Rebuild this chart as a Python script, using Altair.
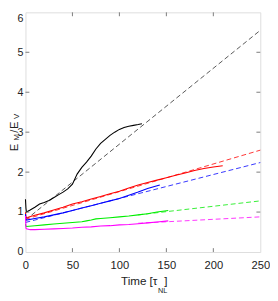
import altair as alt
import pandas as pd

# ---- data ----
t_black = [0, 0.5, 1, 5, 10, 15, 20, 25, 30, 35, 40, 45, 50, 55, 60, 65, 70, 75, 80, 85, 90, 95, 100, 105, 110, 115, 120, 124]
v_black = [1.32, 1.1, 1.0, 1.05, 1.12, 1.2, 1.24, 1.29, 1.36, 1.43, 1.50, 1.58, 1.70, 1.95, 2.12, 2.25, 2.40, 2.58, 2.72, 2.82, 2.92, 3.0, 3.07, 3.12, 3.15, 3.17, 3.19, 3.21]

t_red = [0, 0.5, 1, 10, 20, 30, 40, 50, 60, 70, 80, 90, 100, 110, 120, 130, 140, 150, 160, 170, 180, 190, 200, 210]
v_red = [1.0, 0.88, 0.86, 0.92, 0.98, 1.05, 1.12, 1.2, 1.26, 1.33, 1.39, 1.46, 1.52, 1.60, 1.68, 1.74, 1.80, 1.86, 1.92, 1.98, 2.04, 2.09, 2.13, 2.16]

t_blue = [0, 0.5, 1, 10, 20, 30, 40, 50, 60, 70, 80, 90, 100, 110, 120, 130, 143]
v_blue = [0.95, 0.82, 0.80, 0.84, 0.88, 0.93, 0.98, 1.04, 1.1, 1.16, 1.22, 1.28, 1.34, 1.42, 1.5, 1.59, 1.68]

t_green = [0, 0.5, 1, 10, 20, 30, 40, 50, 60, 65, 70, 75, 80, 90, 100, 110, 120, 130, 140, 152]
v_green = [0.70, 0.65, 0.64, 0.66, 0.68, 0.70, 0.72, 0.74, 0.76, 0.78, 0.80, 0.83, 0.84, 0.86, 0.88, 0.90, 0.93, 0.96, 1.00, 1.04]

t_mag = [0, 0.5, 1, 5, 10, 20, 30, 40, 50, 60, 70, 80, 90, 100, 110, 120, 130, 140, 152]
v_mag = [0.9, 0.6, 0.58, 0.56, 0.56, 0.57, 0.58, 0.59, 0.60, 0.62, 0.63, 0.65, 0.66, 0.68, 0.69, 0.71, 0.73, 0.75, 0.78]

# dashed fits (start and end points)
td_black, vd_black = [0, 250], [0.80, 5.55]
td_red, vd_red = [0, 250], [0.82, 2.55]
td_blue, vd_blue = [0, 250], [0.74, 2.24]
td_green, vd_green = [120, 250], [0.93, 1.28]
td_mag, vd_mag = [120, 250], [0.72, 0.88]

x_ticks = [0, 50, 100, 150, 200, 250]
y_ticks = [0, 1, 2, 3, 4, 5, 6]

colors = {"black": "#000000", "red": "#ff0000", "blue": "#0000ff", "green": "#00ee00", "magenta": "#ff00ff"}
dash_colors = {"black": "#555555", "red": "#ff3333", "blue": "#3333ff", "green": "#33ee33", "magenta": "#ff33ff"}

solid = [("black", t_black, v_black), ("red", t_red, v_red), ("blue", t_blue, v_blue),
         ("green", t_green, v_green), ("magenta", t_mag, v_mag)]
dashed = [("black", td_black, vd_black), ("red", td_red, vd_red), ("blue", td_blue, vd_blue),
          ("green", td_green, vd_green), ("magenta", td_mag, vd_mag)]

rows_s = []
for name, ts, vs in solid:
    for i, (t, v) in enumerate(zip(ts, vs)):
        rows_s.append({"series": name, "t": t, "v": v, "col": colors[name], "o": i})
rows_d = []
for name, ts, vs in dashed:
    for i, (t, v) in enumerate(zip(ts, vs)):
        rows_d.append({"series": name, "t": t, "v": v, "col": dash_colors[name], "o": i})
df_s = pd.DataFrame(rows_s)
df_d = pd.DataFrame(rows_d)

W, H = 242, 247
FONT = "Liberation Sans"
GRAY = "#7a7a7a"
LAB = "#222222"

xs = alt.Scale(domain=[0, 250], nice=False, zero=False)
ys = alt.Scale(domain=[0, 6], nice=False, zero=False)

xax = alt.Axis(values=x_ticks, ticks=False, domain=False, grid=False, title=None,
               labelFont=FONT, labelFontSize=11.5, labelColor=LAB, labelPadding=8, labelFlush=False)
yax = alt.Axis(values=y_ticks, ticks=False, domain=False, grid=False, title=None,
               labelFont=FONT, labelFontSize=11, labelColor=LAB, labelPadding=2.5, labelFlush=False,
               labelBaseline={"condition": {"test": "datum.value == 6", "value": "top"}, "value": "middle"})

dash_layer = alt.Chart(df_d).mark_line(strokeDash=[5, 3], strokeWidth=1).encode(
    x=alt.X("t:Q", scale=xs, axis=xax),
    y=alt.Y("v:Q", scale=ys, axis=yax),
    detail="series:N",
    order="o:Q",
    color=alt.Color("col:N", scale=None),
)
solid_layer = alt.Chart(df_s).mark_line(strokeWidth=1.1).encode(
    x=alt.X("t:Q", scale=xs),
    y=alt.Y("v:Q", scale=ys),
    detail="series:N",
    order="o:Q",
    color=alt.Color("col:N", scale=None),
)

xt = pd.DataFrame({"t": x_ticks[1:-1]})
yt = pd.DataFrame({"v": y_ticks[1:-1]})
tk_bot = alt.Chart(xt).mark_rule(color=GRAY, strokeWidth=1).encode(x="t:Q", y=alt.value(H), y2=alt.value(H - 4))
tk_top = alt.Chart(xt).mark_rule(color=GRAY, strokeWidth=1).encode(x="t:Q", y=alt.value(0), y2=alt.value(4))
tk_left = alt.Chart(yt).mark_rule(color=GRAY, strokeWidth=1).encode(y="v:Q", x=alt.value(0), x2=alt.value(4))
tk_right = alt.Chart(yt).mark_rule(color=GRAY, strokeWidth=1).encode(y="v:Q", x=alt.value(W), x2=alt.value(W - 4))

one = pd.DataFrame({"a": [0]})


def txt(s, x, y, size, align="left", angle=0):
    kw = dict(text=s, font=FONT, fontSize=size, color=LAB, align=align, baseline="alphabetic")
    if angle:
        kw["angle"] = angle
    return alt.Chart(one).mark_text(**kw).encode(x=alt.value(x), y=alt.value(y))


# x title: Time [tau_NL]
xt1 = txt("Time [\u03c4", 136, 281, 12, align="right")
xt2 = txt("NL", 136.5, 289, 7.5)
xt3 = txt("]", 143, 281, 12)

# y title: E_M / E_V, rotated
yb = -8
yt1 = txt("E", yb, 143, 11, angle=270)
yt2 = txt("M", yb + 1, 132, 8, angle=270)
yt3 = txt("/", yb, 124, 11, angle=270)
yt4 = txt("E", yb, 120, 11, angle=270)
yt5 = txt("V", yb + 1, 110, 8, angle=270)

chart = alt.layer(
    dash_layer, solid_layer, tk_bot, tk_top, tk_left, tk_right,
    xt1, xt2, xt3, yt1, yt2, yt3, yt4, yt5,
).properties(
    width=W, height=H,
    autosize=alt.AutoSizeParams(type="none"),
    padding={"left": 18, "top": 0, "right": 10, "bottom": 46},
).configure_view(stroke=GRAY, strokeWidth=1).configure(background="white")

chart.save("out.html", embed_options={"renderer": "svg", "actions": False})
